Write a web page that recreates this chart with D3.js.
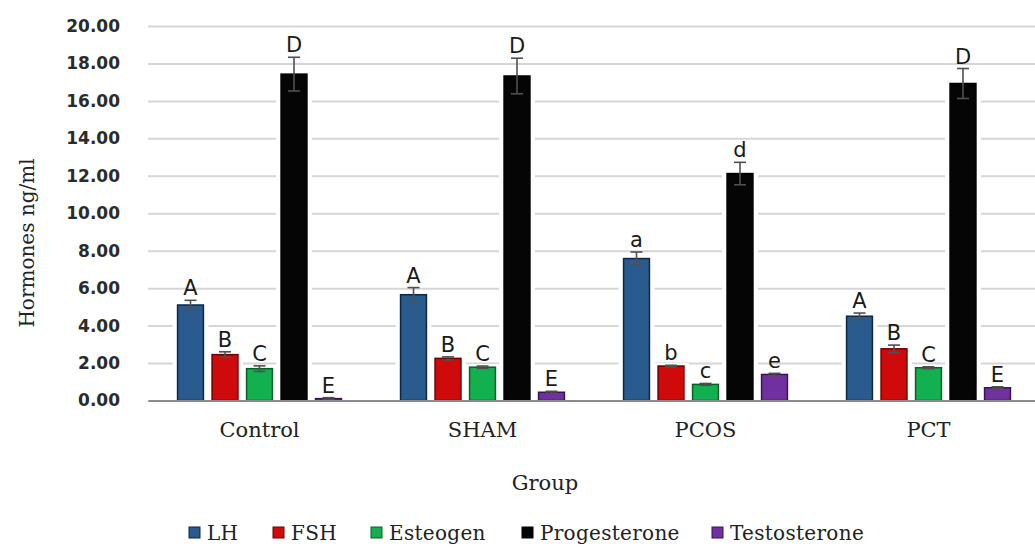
<!DOCTYPE html>
<html>
<head>
<meta charset="utf-8">
<script src="https://cdn.jsdelivr.net/npm/d3@7"></script>
<style>
  body { margin: 0; background: #fff; }
</style>
</head>
<body>
<svg id="chart" width="1035" height="549"></svg>
<script>
// Data
const groups = ["Control", "SHAM", "PCOS", "PCT"];
const series = ["LH", "FSH", "Esteogen", "Progesterone", "Testosterone"];

const lhValues = [5.10, 5.65, 7.58, 4.50];
const fshValues = [2.45, 2.25, 1.84, 2.76];
const estValues = [1.70, 1.78, 0.86, 1.75];
const progValues = [17.43, 17.33, 12.12, 16.93];
const testValues = [0.10, 0.44, 1.39, 0.68];

const lhErr = [0.25, 0.38, 0.35, 0.17];
const fshErr = [0.15, 0.08, 0.04, 0.20];
const estErr = [0.15, 0.06, 0.05, 0.05];
const progErr = [0.90, 0.95, 0.60, 0.80];
const testErr = [0.05, 0.05, 0.06, 0.05];

// significance letters, one row per group
const letters = [
  ["A", "B", "C", "D", "E"],
  ["A", "B", "C", "D", "E"],
  ["a", "b", "c", "d", "e"],
  ["A", "B", "C", "D", "E"]
];

const yTicks = [0, 2, 4, 6, 8, 10, 12, 14, 16, 18, 20];

// Build rows for drawing
const valuesBySeries = [lhValues, fshValues, estValues, progValues, testValues];
const errBySeries = [lhErr, fshErr, estErr, progErr, testErr];
const rows = [];
groups.forEach((g, gi) => {
  series.forEach((s, si) => {
    rows.push({group: g, series: s, value: valuesBySeries[si][gi], err: errBySeries[si][gi], letter: letters[gi][si]});
  });
});

const fills = {LH: "#2a5b8e", FSH: "#cf0a0a", Esteogen: "#12b04e", Progesterone: "#050505", Testosterone: "#7030a0"};
const strokes = {LH: "#0f2744", FSH: "#6e0000", Esteogen: "#0a5e2a", Progesterone: "#000", Testosterone: "#361452"};

const svg = d3.select("#chart");
const plotLeft = 148, plotRight = 1040, plotBottom = 400.5, plotTop = 26;

const x0 = d3.scaleBand().domain(groups).range([plotLeft, plotRight]);
const x1 = d3.scaleBand().domain(series).range([0, x0.bandwidth()])
  .paddingInner(0.25).paddingOuter(0.857);
const y = d3.scaleLinear().domain([0, 20]).range([plotBottom, plotTop]);

// Grid + y tick labels
const yAxis = svg.append("g")
  .attr("transform", `translate(${plotLeft},0)`)
  .call(d3.axisLeft(y).tickValues(yTicks).tickSize(-(plotRight - plotLeft)).tickPadding(28).tickFormat(d3.format(".2f")));
yAxis.select(".domain").remove();
yAxis.selectAll(".tick line").attr("stroke", "#d6d6d6").attr("stroke-width", 2);
yAxis.selectAll(".tick text")
  .attr("font-family", "DejaVu Sans")
  .attr("font-weight", "bold")
  .attr("font-size", 17)
  .attr("fill", "#2b2b2b");

// white halo round bars (gridlines stop short of the bars)
const barG = svg.append("g");
barG.selectAll("rect.halo")
  .data(rows)
  .join("rect")
  .attr("class", "halo")
  .attr("x", d => x0(d.group) + x1(d.series) - 5)
  .attr("width", x1.bandwidth() + 10)
  .attr("y", d => y(d.value) - 3)
  .attr("height", d => plotBottom - y(d.value) + 3)
  .attr("fill", "#fff");

barG.selectAll("rect.bar")
  .data(rows)
  .join("rect")
  .attr("class", "bar")
  .attr("x", d => x0(d.group) + x1(d.series))
  .attr("width", x1.bandwidth())
  .attr("y", d => y(d.value))
  .attr("height", d => plotBottom - y(d.value))
  .attr("fill", d => fills[d.series])
  .attr("stroke", d => strokes[d.series])
  .attr("stroke-width", 1.5);

// Error bars
const errG = svg.append("g").attr("stroke", "#505050").attr("stroke-width", 1.6);
rows.forEach(d => {
  const cx = x0(d.group) + x1(d.series) + x1.bandwidth() / 2;
  const y1 = y(d.value + d.err), y2 = y(d.value - d.err);
  errG.append("line").attr("x1", cx).attr("x2", cx).attr("y1", y1).attr("y2", y2);
  errG.append("line").attr("x1", cx - 6).attr("x2", cx + 6).attr("y1", y1).attr("y2", y1);
  errG.append("line").attr("x1", cx - 6).attr("x2", cx + 6).attr("y1", y2).attr("y2", y2);
});

// Letters
svg.append("g").selectAll("text")
  .data(rows)
  .join("text")
  .attr("x", d => x0(d.group) + x1(d.series) + x1.bandwidth() / 2)
  .attr("y", d => y(d.value + d.err) - 5)
  .attr("text-anchor", "middle")
  .attr("font-family", "DejaVu Sans")
  .attr("font-size", 21)
  .attr("fill", "#1a1a1a")
  .text(d => d.letter);

// X axis
const xAxis = svg.append("g")
  .attr("transform", `translate(0,${plotBottom})`)
  .call(d3.axisBottom(x0).tickSize(0).tickPadding(22));
xAxis.select(".domain").attr("stroke", "#8a8a8a").attr("stroke-width", 2);
xAxis.selectAll(".tick text")
  .attr("font-family", "DejaVu Serif")
  .attr("font-size", 21)
  .attr("fill", "#222");

// Axis titles
svg.append("text")
  .attr("transform", "translate(27,243) rotate(-90)")
  .attr("text-anchor", "middle")
  .attr("dominant-baseline", "central")
  .attr("font-family", "DejaVu Serif")
  .attr("font-size", 20)
  .attr("fill", "#222")
  .text("Hormones ng/ml");

svg.append("text")
  .attr("x", 545)
  .attr("y", 490)
  .attr("text-anchor", "middle")
  .attr("font-family", "DejaVu Serif")
  .attr("font-size", 21)
  .attr("fill", "#222")
  .text("Group");

// Legend
const legendX = [189, 273, 371, 522, 712];
const legend = svg.append("g").selectAll("g")
  .data(series)
  .join("g")
  .attr("transform", (d, i) => `translate(${legendX[i]},0)`);
legend.append("rect")
  .attr("x", 0).attr("y", 527).attr("width", 11).attr("height", 11)
  .attr("fill", d => fills[d]).attr("stroke", d => strokes[d]);
legend.append("text")
  .attr("x", 18).attr("y", 540)
  .attr("font-family", "DejaVu Serif")
  .attr("font-size", 20)
  .attr("letter-spacing", 0.3)
  .attr("fill", "#222")
  .text(d => d);
</script>
</body>
</html>
